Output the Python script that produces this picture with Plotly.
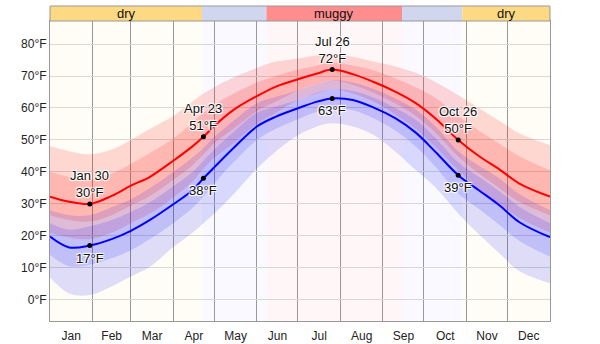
import pandas as pd
import plotly.graph_objects as go

# Sample dates through the year (end point closes the year)
dates = ["2023-01-01", "2023-01-15", "2023-01-30", "2023-02-15", "2023-03-01", "2023-03-15",
         "2023-04-01", "2023-04-15", "2023-04-23", "2023-05-01", "2023-05-15", "2023-06-01",
         "2023-06-15", "2023-07-01", "2023-07-15", "2023-07-26", "2023-08-10", "2023-08-25",
         "2023-09-10", "2023-09-25", "2023-10-10", "2023-10-26", "2023-11-10", "2023-11-25",
         "2023-12-10", "2024-01-01"]

# Average daily high and its percentile bands (°F)
high_avg = [32.3, 30.7, 30.0, 32.5, 35.7, 38.5, 43.5, 48.0, 51.0, 54.4, 59.4, 63.7, 66.7,
            69.0, 70.8, 72.0, 70.6, 68.2, 65.1, 61.5, 56.5, 50.0, 45.0, 40.8, 36.3, 32.3]
high_p90 = [48.0, 46.5, 45.5, 47.0, 50.0, 53.5, 57.5, 62.0, 64.5, 66.5, 69.5, 72.5, 74.5,
            75.5, 76.5, 77.0, 76.0, 74.5, 73.0, 71.0, 68.0, 64.0, 60.0, 56.0, 52.0, 48.4]
high_p75 = [40.0, 38.5, 37.5, 39.5, 42.5, 46.0, 50.5, 55.5, 58.5, 61.0, 64.5, 68.0, 70.0,
            72.0, 73.3, 74.2, 73.3, 71.8, 69.3, 66.5, 63.0, 57.5, 53.0, 48.8, 44.8, 40.5]
high_p25 = [26.5, 25.0, 24.5, 26.5, 29.5, 32.5, 37.5, 42.0, 45.5, 49.0, 53.5, 59.0, 62.0,
            65.5, 67.5, 68.7, 67.3, 64.8, 61.5, 57.5, 52.0, 44.8, 39.5, 35.0, 30.5, 26.5]
high_p10 = [21.0, 19.5, 19.0, 21.0, 24.0, 27.0, 32.0, 37.0, 41.0, 44.5, 49.0, 55.0, 58.5,
            62.5, 64.5, 66.0, 64.5, 62.0, 58.0, 53.5, 47.5, 40.5, 34.5, 30.0, 25.5, 21.0]

# Average daily low and its percentile bands (°F)
low_avg = [19.8, 16.4, 17.0, 19.0, 21.6, 25.0, 29.9, 34.3, 38.0, 41.5, 47.5, 54.2, 57.3,
           59.9, 62.0, 63.0, 62.5, 60.2, 56.8, 52.3, 46.0, 39.0, 34.3, 29.6, 24.2, 19.6]
low_p90 = [28.0, 26.5, 26.5, 29.0, 31.5, 35.0, 40.0, 44.5, 47.5, 51.0, 56.0, 61.5, 63.5,
           65.5, 67.5, 68.7, 68.0, 66.0, 63.0, 59.5, 54.0, 46.5, 42.0, 38.0, 33.0, 28.0]
low_p75 = [24.0, 22.0, 23.0, 25.0, 27.5, 30.5, 35.5, 40.0, 43.5, 47.0, 52.5, 58.5, 60.5,
           62.5, 64.8, 66.0, 65.3, 63.3, 60.0, 56.3, 50.3, 43.0, 38.5, 34.0, 29.0, 24.0]
low_p25 = [14.0, 10.5, 11.0, 13.0, 15.5, 19.0, 24.0, 28.7, 32.3, 36.5, 43.0, 50.0, 53.5,
           56.5, 58.8, 59.8, 59.3, 56.8, 53.0, 48.0, 41.3, 33.3, 28.5, 23.5, 18.3, 13.5]
low_p10 = [7.0, 2.0, 1.5, 4.2, 7.3, 10.4, 16.5, 21.0, 24.0, 27.0, 33.0, 41.0, 46.5,
           51.5, 54.2, 55.2, 54.2, 51.6, 46.4, 40.6, 34.9, 27.0, 20.5, 14.6, 8.9, 5.2]

# Highlighted days: date, label, high, low
mark_dates = ["2023-01-30", "2023-04-23", "2023-07-26", "2023-10-26"]
mark_labels = ["Jan 30", "Apr 23", "Jul 26", "Oct 26"]
mark_highs = [30, 51, 72, 50]
mark_lows = [17, 38, 63, 39]

# Humidity comfort seasons
season_starts = ["2023-01-01", "2023-04-22", "2023-06-08", "2023-09-15", "2023-10-29"]
season_ends = ["2023-04-22", "2023-06-08", "2023-09-15", "2023-10-29", "2024-01-01"]
season_names = ["dry", "", "muggy", "", "dry"]
season_band = ["#fdd983", "#d0d6ee", "#ff8d8d", "#d0d6ee", "#fdd983"]
season_bg = ["#fffdf6", "#f9f9ff", "#fff7f7", "#f9f9ff", "#fffdf6"]

FONT = "Liberation Sans, Arial, sans-serif"
fig = go.Figure()


def band(lower, upper, color):
    fig.add_trace(go.Scatter(x=dates, y=lower, mode="lines", line=dict(width=0, shape="spline"),
                             hoverinfo="skip", showlegend=False))
    fig.add_trace(go.Scatter(x=dates, y=upper, mode="lines", line=dict(width=0, shape="spline"),
                             fill="tonexty", fillcolor=color, hoverinfo="skip", showlegend=False))


band(high_p10, high_p90, "rgba(255,0,0,0.15)")
band(high_p25, high_p75, "rgba(255,0,0,0.15)")
band(low_p10, low_p90, "rgba(0,0,255,0.13)")
band(low_p25, low_p75, "rgba(0,0,255,0.13)")

fig.add_trace(go.Scatter(x=dates, y=high_avg, mode="lines",
                         line=dict(color="#ff0000", width=2, shape="spline"), showlegend=False))
fig.add_trace(go.Scatter(x=dates, y=low_avg, mode="lines",
                         line=dict(color="#0000ff", width=2, shape="spline"), showlegend=False))
fig.add_trace(go.Scatter(x=mark_dates + mark_dates, y=mark_highs + mark_lows, mode="markers",
                         marker=dict(color="black", size=5), showlegend=False))

halo = "1px 1px 1px #fff, -1px -1px 1px #fff, 1px -1px 1px #fff, -1px 1px 1px #fff"
afont = dict(family=FONT, size=13, color="#111", shadow=halo)
for d, lab, hi, lo in zip(mark_dates, mark_labels, mark_highs, mark_lows):
    fig.add_annotation(x=d, y=hi, text=f"{lab}<br>{hi}°F", showarrow=False,
                       yanchor="bottom", yshift=2, font=afont)
    fig.add_annotation(x=d, y=lo, text=f"{lo}°F", showarrow=False,
                       yanchor="top", yshift=-3, font=afont)

# Season shading in the plot plus the labelled strip above it
shapes = []
for s, e, bg, bc, name in zip(season_starts, season_ends, season_bg, season_band, season_names):
    shapes.append(dict(type="rect", xref="x", yref="paper", x0=s, x1=e, y0=0, y1=1,
                       fillcolor=bg, line=dict(width=0), layer="below"))
    shapes.append(dict(type="rect", xref="x", yref="paper", x0=s, x1=e, y0=1.0, y1=1.05,
                       fillcolor=bc, line=dict(width=0), layer="above"))
    if name:
        mid = pd.Timestamp(s) + (pd.Timestamp(e) - pd.Timestamp(s)) / 2
        fig.add_annotation(x=mid.strftime("%Y-%m-%d %H:%M"), xref="x", yref="paper", y=1.025,
                           text=name, showarrow=False, xanchor="center", yanchor="middle",
                           font=dict(family=FONT, size=13, color="#111"))
shapes.append(dict(type="rect", xref="paper", yref="paper", x0=0, x1=1, y0=1.0, y1=1.05,
                   fillcolor="rgba(0,0,0,0)", line=dict(color="#999", width=1), layer="above"))

fig.update_layout(
    width=600, height=344,
    margin=dict(l=50, r=50, t=21, b=23),
    paper_bgcolor="white", plot_bgcolor="white",
    shapes=shapes,
    font=dict(family=FONT, size=12, color="#222"),
    showlegend=False,
)
fig.update_xaxes(type="date", range=["2023-01-01", "2024-01-01"], dtick="M1", tick0="2023-01-01",
                 ticklabelmode="period", tickformat="%b", showgrid=True, gridcolor="#999",
                 gridwidth=1, showline=True, linecolor="#999", mirror=True, ticks="",
                 ticklabelstandoff=4, automargin=False, fixedrange=True)
fig.update_yaxes(range=[-6.6, 87.2], dtick=10, tick0=0, ticksuffix="°F", showgrid=True,
                 gridcolor="#d8d8d8", zeroline=False, showline=True, linecolor="#999",
                 mirror=True, ticks="", automargin=False, fixedrange=True)

fig.write_html("out.html")
